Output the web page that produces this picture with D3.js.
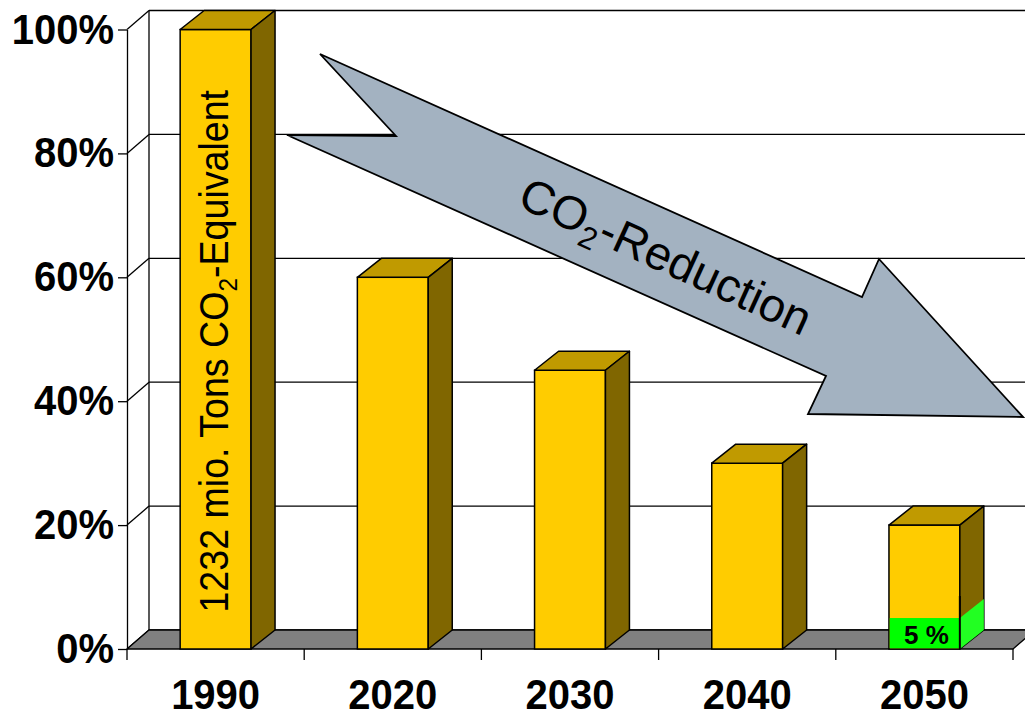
<!DOCTYPE html>
<html>
<head>
<meta charset="utf-8">
<script src="https://cdn.jsdelivr.net/npm/d3@7"></script>
<style>
  html, body { margin: 0; padding: 0; background: #fff; }
  svg { display: block; font-family: "Liberation Sans", Arial, sans-serif; }
</style>
</head>
<body>
<svg id="chart" width="1025" height="718"></svg>
<script>
// Emissions relative to 1990, in percent
const categories = ["1990", "2020", "2030", "2040", "2050"];
const shares = [100, 60, 45, 30, 20];
const targetShare2050 = 5;        // lower bound for 2050, drawn in green
const yTicks = [0, 20, 40, 60, 80, 100];
const baseLabel = ["1232 mio. Tons CO", "2", "-Equivalent"];
const arrowLabel = ["CO", "2", "-Reduction"];

const svg = d3.select("#chart");

// plot frame (front plane) and 3D offsets
const plotLeft = 127, plotRight = 1013, plotBottom = 649, plotTop = 29.5;
const wallDx = 22, wallDy = -19;   // depth of walls / floor
const barDx = 24, barDy = -19;     // depth of the columns

const y = d3.scaleLinear().domain([0, 100]).range([plotBottom, plotTop]);
const xBand = d3.scaleBand().domain(categories).range([plotLeft, plotRight]).padding(0);
const xBar = d3.scaleBand().domain(categories).range([plotLeft, plotRight])
  .paddingInner(0.6).paddingOuter(0.3);

const black = "#000";
const gridW = 1.3;

// ---- walls and gridlines ----
const walls = svg.append("g");
walls.selectAll("line.grid").data(yTicks).join("line")
  .attr("x1", plotLeft + wallDx).attr("x2", plotRight + wallDx)
  .attr("y1", d => y(d) + wallDy).attr("y2", d => y(d) + wallDy)
  .attr("stroke", black).attr("stroke-width", gridW);
walls.selectAll("line.diag").data(yTicks).join("line")
  .attr("x1", plotLeft).attr("y1", d => y(d))
  .attr("x2", plotLeft + wallDx).attr("y2", d => y(d) + wallDy)
  .attr("stroke", black).attr("stroke-width", gridW);
walls.append("line")
  .attr("x1", plotLeft + wallDx).attr("x2", plotLeft + wallDx)
  .attr("y1", y(100) + wallDy).attr("y2", y(0) + wallDy)
  .attr("stroke", black).attr("stroke-width", gridW);

// floor
svg.append("path")
  .attr("d", d3.line()([[plotLeft, y(0)], [plotRight, y(0)], [plotRight + wallDx, y(0) + wallDy], [plotLeft + wallDx, y(0) + wallDy]]) + "Z")
  .attr("fill", "#808080").attr("stroke", black).attr("stroke-width", gridW)
  .attr("stroke-linejoin", "round");

// ---- value axis (front plane) ----
const yAxis = svg.append("g")
  .attr("transform", `translate(${plotLeft},0)`)
  .call(d3.axisLeft(y).tickValues(yTicks).tickSize(9).tickSizeOuter(0).tickFormat(d => d + "%"));
yAxis.select(".domain").attr("stroke", black).attr("stroke-width", gridW);
yAxis.selectAll(".tick line").attr("stroke", black).attr("stroke-width", gridW);
yAxis.selectAll(".tick text")
  .attr("x", null).attr("dy", null)
  .attr("transform", "translate(-13,13.5) scale(1,1.08)")
  .attr("text-anchor", "end")
  .attr("font-family", "'Liberation Sans', Arial, sans-serif")
  .attr("font-size", 40).attr("font-weight", "bold").attr("fill", black);

// ---- category axis ----
const edges = categories.map(c => xBand(c)).concat([xBand.range()[1]]);
svg.selectAll("line.ctick").data(edges).join("line")
  .attr("x1", d => d).attr("x2", d => d)
  .attr("y1", y(0)).attr("y2", y(0) + 11)
  .attr("stroke", black).attr("stroke-width", gridW);
svg.selectAll("text.cat").data(categories).join("text")
  .attr("transform", d => `translate(${xBar(d) + xBar.bandwidth() / 2},709) scale(1,1.06)`)
  .attr("text-anchor", "middle")
  .attr("font-size", 40).attr("font-weight", "bold").attr("fill", black)
  .text(d => d);

// ---- columns ----
const bars = categories.map((c, i) => ({ cat: c, value: shares[i] }));
const barG = svg.selectAll("g.bar").data(bars).join("g").attr("class", "bar");
const w = xBar.bandwidth();
const frontC = "#FFCC00", topC = "#C09A00", sideC = "#806600";

function topFace(x0, y1) {
  return d3.line()([[x0, y1], [x0 + barDx, y1 + barDy], [x0 + w + barDx, y1 + barDy], [x0 + w, y1]]) + "Z";
}
function sideFace(x0, y1, y0) {
  return d3.line()([[x0 + w, y1], [x0 + w + barDx, y1 + barDy], [x0 + w + barDx, y0 + barDy], [x0 + w, y0]]) + "Z";
}

barG.append("rect")
  .attr("x", d => xBar(d.cat)).attr("y", d => y(d.value))
  .attr("width", w).attr("height", d => y(0) - y(d.value))
  .attr("fill", frontC).attr("stroke", black).attr("stroke-width", 1.5);
barG.append("path")
  .attr("d", d => topFace(xBar(d.cat), y(d.value)))
  .attr("fill", topC).attr("stroke", black).attr("stroke-width", 1.5).attr("stroke-linejoin", "round");
barG.append("path")
  .attr("d", d => sideFace(xBar(d.cat), y(d.value), y(0)))
  .attr("fill", sideC).attr("stroke", black).attr("stroke-width", 1.5).attr("stroke-linejoin", "round");

// 2050 lower bound segment
const x50 = xBar("2050");
const green = svg.append("g");
green.append("rect")
  .attr("x", x50 + 0.75).attr("y", y(targetShare2050))
  .attr("width", w - 0.75).attr("height", y(0) - y(targetShare2050) - 0.75)
  .attr("fill", "#00FF00");
green.append("path")
  .attr("d", sideFace(x50, y(targetShare2050), y(0)))
  .attr("fill", "#22FF22");
green.append("line")
  .attr("x1", x50 + w).attr("x2", x50 + w)
  .attr("y1", y(0)).attr("y2", y(targetShare2050) - 22)
  .attr("stroke", black).attr("stroke-width", 2);
green.append("text")
  .attr("x", x50 + w / 2 + 2).attr("y", y(0) - 5)
  .attr("text-anchor", "middle")
  .attr("font-size", 26).attr("font-weight", "bold").attr("fill", black)
  .text(targetShare2050 + " %");

// label inside the 1990 column
const bx = xBar("1990");
const baseText = svg.append("text")
  .attr("transform", `translate(${bx + w / 2 + 12},${(y(0) + y(100)) / 2 + 12}) rotate(-90) scale(0.94,1)`)
  .attr("text-anchor", "middle")
  .attr("font-size", 40).attr("fill", black);
baseText.append("tspan").text(baseLabel[0]);
baseText.append("tspan").attr("font-size", 26).attr("dy", 9).text(baseLabel[1]);
baseText.append("tspan").attr("dy", -9).text(baseLabel[2]);

// ---- reduction arrow ----
const arrowPts = [
  [320, 54], [862, 297], [879, 259], [1023, 417], [808, 414],
  [826, 376], [287, 135], [396, 136]
];
svg.append("path")
  .attr("d", d3.line()(arrowPts) + "Z")
  .attr("fill", "#A3B2C1").attr("stroke", black).attr("stroke-width", 1.8)
  .attr("stroke-linejoin", "miter");

const arrowText = svg.append("text")
  .attr("transform", "translate(659,271) rotate(24.5)")
  .attr("text-anchor", "middle")
  .attr("font-size", 47).attr("fill", black);
arrowText.append("tspan").text(arrowLabel[0]);
arrowText.append("tspan").attr("font-size", 31).attr("dy", 10).text(arrowLabel[1]);
arrowText.append("tspan").attr("dy", -10).text(arrowLabel[2]);
</script>
</body>
</html>
